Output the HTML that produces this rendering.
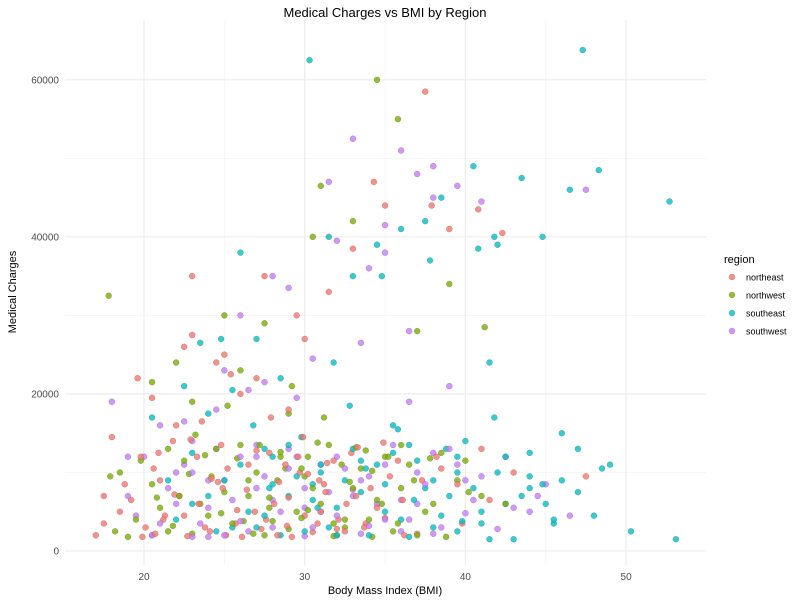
<!DOCTYPE html>
<html><head><meta charset="utf-8"><style>
body{margin:0;background:#fff;font-family:"Liberation Sans",sans-serif}
svg text{font-family:"Liberation Sans",sans-serif}
</style></head><body>
<svg id="chart" width="800" height="600" xmlns="http://www.w3.org/2000/svg"></svg>
<script>
const xTicks=[20,30,40,50];
const xMinor=[15,25,35,45,55];
const yTicks=[0,20000,40000,60000];
const yMinor=[10000,30000,50000];
const yTickLabels=["0","20000","40000","60000"];
const regions=["northeast","northwest","southeast","southwest"];
const colors=["#F8766D","#7CAE00","#00BFC4","#C77CFF"];
const neBmi=[17.0,18.0,19.2,20.1,21.0,21.8,22.5,23.3,24.1,24.9,25.7,26.5,27.3,28.1,28.9,29.7,30.5,31.3,32.1,32.9,33.7,34.5,35.3,36.1,37.0,38.2,39.5,41.0,43.0,47.5,17.5,19.6,20.5,22.0,23.0,24.5,26.0,27.5,29.0,30.0,31.5,33.0,35.0,37.5,39.0,19.8,22.5,23.0,25.0,27.0,29.5,37.9,40.8,42.3,34.3,18.5,20.7,22.2,23.8,25.2,26.9,28.4,30.0,31.8,33.2,24.8,27.8,29.2,31.0,32.5,21.2,26.1,28.8,30.9,34.9];
const neCharges=[2.0,14.5,6.5,3.0,9.0,14.0,4.5,12.0,2.5,8.0,3.5,11.0,2.8,6.0,3.2,10.0,2.4,7.5,4.0,12.5,3.0,5.5,9.5,6.5,2.2,12.0,8.5,13.0,10.0,9.5,7.0,22.0,19.5,16.0,27.5,24.0,20.0,35.0,18.0,27.0,33.0,38.5,44.0,58.5,41.0,12.0,26.0,35.0,25.0,22.0,30.0,44.0,43.5,40.5,47.0,5.0,2.2,7.0,3.0,10.5,5.0,8.8,4.5,11.5,7.0,13.5,12.5,1.8,5.0,2.5,4.0,1.8,11.0,9.0,13.8];
const neBmi2=[17.5,18.8,19.9,20.6,21.3,21.9,22.7,23.4,24.2,25.1,25.8,26.4,27.0,27.6,28.3,29.0,29.6,30.2,30.8,31.4,32.0,32.6,33.3,34.1,35.0,36.2,37.3,38.5,39.8,41.5,23.6,25.4,27.9,29.9,31.2,33.8,35.8,20.9,22.9,24.6];
const neCharges2=[3.5,8.5,1.8,10.5,4.5,7.2,1.9,6.0,9.2,2.0,5.2,7.8,12.8,4.0,2.0,6.8,12.0,9.8,3.5,11.2,2.8,6.0,13.2,8.0,4.2,2.0,9.0,10.5,3.5,6.5,16.5,22.5,17.0,14.5,8.5,3.5,11.5,12.5,14.2,8.8];
const nwBmi=[17.8,18.5,19.5,20.5,21.5,22.5,23.5,24.5,25.5,26.5,27.5,28.5,29.5,30.5,31.5,32.5,33.5,34.5,35.5,36.5,37.5,38.5,39.5,41.0,17.9,20.5,22.0,23.0,25.0,26.0,27.5,29.0,30.5,31.0,33.0,34.5,35.8,37.0,39.0,41.2,21.5,24.0,26.5,28.0,30.0,32.0,34.0,36.0,38.0,40.0,19.0,21.0,23.0,25.0,27.0,29.0,31.0,33.0,35.0,37.0,26.0,28.3,30.2,32.3,34.2,24.2,27.8,29.8,31.8,36.0];
const nwCharges=[32.5,10.0,4.0,8.5,2.5,11.5,6.0,13.0,3.5,9.0,2.0,12.0,5.0,8.0,13.5,3.0,10.5,6.5,2.5,11.0,5.0,12.5,9.0,7.0,9.5,21.5,24.0,19.0,30.0,23.0,29.0,17.5,40.0,46.5,42.0,60.0,55.0,28.0,34.0,28.5,13.0,4.5,7.0,3.8,9.5,2.0,4.0,8.0,6.0,11.5,1.8,5.5,2.2,7.5,10.0,2.8,6.0,8.0,12.0,2.0,13.5,9.0,12.0,11.0,1.8,9.5,5.5,10.5,3.5,13.5];
const nwBmi2=[18.2,19.8,20.8,21.8,22.8,23.8,24.8,25.8,26.8,27.8,28.8,29.8,30.8,31.8,32.8,33.8,34.8,35.8,36.8,37.8,38.8,40.2,42.5,23.2,25.2,27.2,29.2,31.2,33.2,35.2,22.2,26.2,30.2,34.2,28.5,32.5];
const nwCharges2=[2.5,11.5,6.8,3.2,9.8,12.2,4.8,11.8,2.2,6.8,10.5,4.2,13.8,1.9,8.8,12.8,6.0,3.5,9.0,11.8,1.8,7.5,6.0,14.8,18.5,13.5,21.0,17.0,13.2,12.0,7.0,3.8,5.2,10.2,12.6,4.0];
const seBmi=[20.5,22.0,23.5,25.0,26.0,27.0,28.0,29.0,30.0,31.0,32.0,33.0,34.0,35.0,36.0,37.0,38.0,39.0,40.0,41.0,42.0,43.0,44.0,45.0,46.0,47.0,48.0,49.0,50.3,53.1,22.5,24.0,25.5,27.0,28.5,30.3,31.5,33.0,34.5,36.0,37.5,38.5,40.5,41.8,43.5,44.8,46.5,47.3,48.3,52.7,23.0,25.5,28.0,31.0,35.5,39.5,41.5,44.0,46.0,42.0,24.0,26.5,28.5,30.5,32.5,34.5,36.5,38.5,40.5,42.5,29.5,31.5,33.5,35.5,37.5,39.5,43.5,45.5,27.5,41.5];
const seCharges=[17.0,4.0,26.5,9.0,38.0,3.0,12.0,7.0,2.5,10.0,5.5,13.0,2.0,8.5,4.0,11.5,3.0,7.0,14.0,5.0,10.0,1.5,12.5,6.0,9.0,13.0,4.5,11.0,2.5,1.5,21.0,17.5,20.5,27.0,22.0,62.5,40.0,35.0,39.0,41.0,42.0,45.0,49.0,40.0,47.5,40.0,46.0,63.8,48.5,44.5,6.0,3.0,8.5,11.0,16.0,10.0,24.0,8.0,15.0,39.0,7.0,5.0,2.0,6.5,9.0,11.0,13.5,4.5,8.0,12.0,9.5,3.0,7.5,12.5,8.0,2.5,7.0,3.5,13.0,1.5];
const seBmi2=[21.5,23.0,24.5,26.0,27.5,29.0,30.5,32.0,33.5,35.0,36.5,38.0,39.5,41.0,42.5,44.0,45.5,47.0,48.5,26.8,29.8,32.8,35.8,38.8,41.8,44.8,30.8,33.8,36.8,39.8,27.8,24.8,31.8,34.8,37.8,40.8];
const seCharges2=[9.0,12.5,2.5,11.0,4.5,13.5,8.5,2.0,11.5,5.0,1.8,9.0,12.0,3.5,6.0,9.5,4.0,7.5,10.5,16.0,14.5,18.5,15.5,13.0,17.0,8.5,5.5,10.5,6.5,3.8,8.0,27.0,24.0,35.0,37.0,38.5];
const swBmi=[18.0,19.5,20.5,21.5,22.5,23.5,24.5,25.5,26.5,27.5,28.5,29.5,30.5,31.5,32.5,33.5,34.5,35.5,36.5,37.5,38.5,39.5,40.5,42.0,44.0,46.5,19.0,21.0,23.0,25.0,26.5,28.0,29.5,31.5,33.0,34.0,35.0,36.0,37.0,38.0,39.5,41.0,47.5,20.5,24.0,27.0,30.0,33.5,36.5,39.0,22.0,24.0,26.0,28.0,30.0,32.0,34.0,36.0,38.0,29.0,31.0,33.0,35.0,27.0,25.0,37.0,40.0,43.0,45.0,23.0];
const swCharges=[19.0,4.5,2.0,8.0,11.0,3.5,13.0,6.5,2.5,9.5,5.0,12.0,3.0,7.5,10.5,2.2,6.0,13.5,4.0,8.5,3.0,11.0,6.5,2.8,5.0,4.5,12.0,16.0,14.0,23.0,20.5,35.0,19.5,47.0,52.5,36.0,38.0,51.0,48.0,49.0,46.5,44.5,46.0,2.0,1.8,12.0,5.5,9.0,19.0,21.0,6.0,9.0,12.0,3.0,8.0,4.5,9.5,2.5,12.5,13.0,11.0,7.0,4.0,8.0,2.0,6.0,9.0,5.5,8.5,10.0];
const swBmi2=[19.0,20.0,21.0,22.0,23.0,24.0,25.0,26.0,27.0,28.0,29.0,30.0,31.0,32.0,33.0,34.0,35.0,36.0,37.0,38.0,39.0,40.0,41.0,42.5,44.5,24.5,27.5,30.5,33.5,36.5,22.5,26.0,29.0,32.0,35.0,38.0];
const swCharges2=[7.0,12.0,3.5,10.0,1.8,5.5,9.0,3.8,13.5,6.5,10.5,1.9,5.0,12.0,7.8,3.2,11.0,6.5,10.0,2.2,13.0,4.8,9.5,12.0,7.0,18.0,21.5,24.5,26.5,28.0,16.5,30.0,33.5,39.5,41.5,45.0];
const series=[[neBmi.concat(neBmi2),neCharges.concat(neCharges2)],[nwBmi.concat(nwBmi2),nwCharges.concat(nwCharges2)],[seBmi.concat(seBmi2),seCharges.concat(seCharges2)],[swBmi.concat(swBmi2),swCharges.concat(swCharges2)]];

const NS="http://www.w3.org/2000/svg";
const svg=document.getElementById('chart');
const L=65,R=706,T=20,B=565;
const x=v=>144+(v-20)*16.07;
const y=v=>551-v*0.007853;
function mk(tag,attrs,parent){const e=document.createElementNS(NS,tag);for(const k in attrs)e.setAttribute(k,attrs[k]);(parent||svg).appendChild(e);return e;}
const grid=mk('g',{});


xMinor.forEach(v=>{const px=x(v);if(px>L&&px<R)mk('line',{x1:px,x2:px,y1:T,y2:B,stroke:'#f2f2f2','stroke-width':0.6},grid);});
yMinor.forEach(v=>mk('line',{x1:L,x2:R,y1:y(v),y2:y(v),stroke:'#f2f2f2','stroke-width':0.6},grid));
xTicks.forEach(v=>mk('line',{x1:x(v),x2:x(v),y1:T,y2:B,stroke:'#ebebeb','stroke-width':1.1},grid));
yTicks.forEach(v=>mk('line',{x1:L,x2:R,y1:y(v),y2:y(v),stroke:'#ebebeb','stroke-width':1.1},grid));
xTicks.forEach(v=>{const t=mk('text',{x:x(v),y:580,'text-anchor':'middle','font-size':10,fill:'#4d4d4d'});t.textContent=v;

});
yTicks.forEach((v,i)=>{const t=mk('text',{x:59,y:y(v)+3.5,'text-anchor':'end','font-size':10,fill:'#4d4d4d'});t.textContent=yTickLabels[i];

});
const pts=mk('g',{});


const order=[];
series.forEach((s,ri)=>s[0].forEach((b,i)=>order.push([ri,i])));
order.sort((a,b)=>((a[1]*7+a[0]*3)%11)-((b[1]*7+b[0]*3)%11));
order.forEach(([ri,i])=>{const s=series[ri];const c=mk('circle',{cx:x(s[0][i]),cy:y(s[1][i]*1000),r:3,fill:colors[ri],'fill-opacity':0.8,stroke:'#555','stroke-opacity':0.45,'stroke-width':0.5},pts);

});
let t=mk('text',{x:385,y:17,'text-anchor':'middle','font-size':13,fill:'#000'});t.textContent='Medical Charges vs BMI by Region';


t=mk('text',{x:385,y:594,'text-anchor':'middle','font-size':11,fill:'#000'});t.textContent='Body Mass Index (BMI)';


t=mk('text',{x:16,y:292,'text-anchor':'middle','font-size':11,fill:'#000',transform:'rotate(-90 16 292)'});t.textContent='Medical Charges';


const lg=mk('g',{});


t=mk('text',{x:724,y:263,'font-size':11,fill:'#000'},lg);t.textContent='region';


regions.forEach((r,i)=>{const g=mk('g',{},lg);


const cy=277+i*18;
mk('circle',{cx:732,cy:cy,r:3,fill:colors[i],'fill-opacity':0.8,stroke:'#555','stroke-opacity':0.45,'stroke-width':0.5},g);
const tt=mk('text',{x:746,y:cy+3.5,'font-size':9,fill:'#000'},g);tt.textContent=r;});
</script>
</body></html>
